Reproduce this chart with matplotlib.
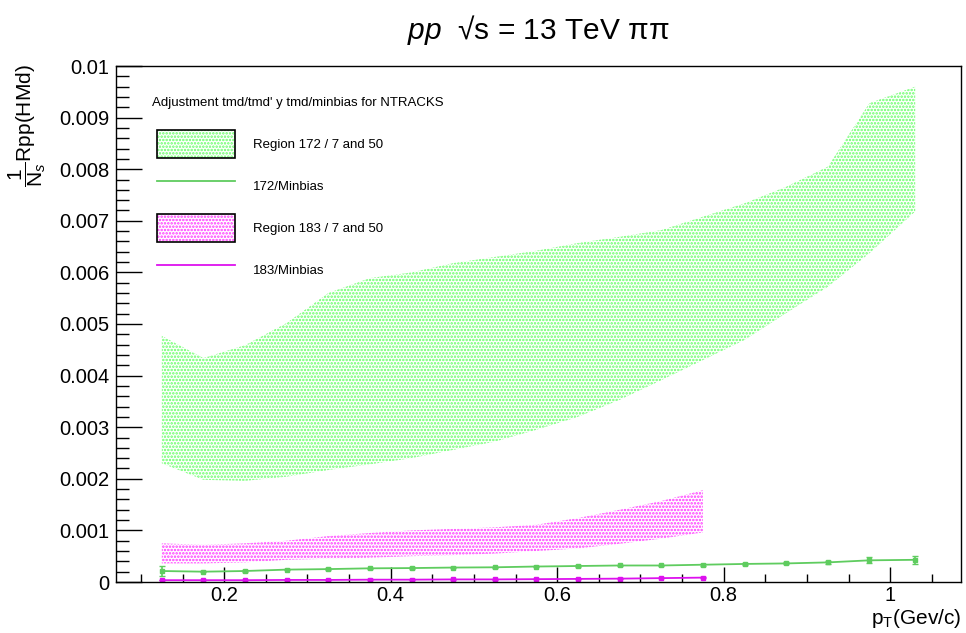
import matplotlib
matplotlib.use("Agg")
import matplotlib.pyplot as plt
from matplotlib.patches import Patch
from matplotlib.lines import Line2D
from matplotlib.legend_handler import HandlerTuple
from matplotlib.ticker import MultipleLocator, FuncFormatter

plt.rcParams['font.family'] = ['Liberation Sans', 'DejaVu Sans']
plt.rcParams['mathtext.fontset'] = 'custom'
plt.rcParams['mathtext.rm'] = 'Liberation Sans'
plt.rcParams['mathtext.it'] = 'Liberation Sans:italic'
plt.rcParams['hatch.linewidth'] = 1.2

# ---------------- data ----------------
x_172 = [0.125, 0.175, 0.225, 0.275, 0.325, 0.375, 0.425, 0.475, 0.525, 0.575,
         0.625, 0.675, 0.725, 0.775, 0.825, 0.875, 0.925, 0.975, 1.03]
band172_hi = [4.77e-3, 4.34e-3, 4.59e-3, 5.02e-3, 5.60e-3, 5.89e-3, 6.00e-3, 6.18e-3, 6.30e-3, 6.42e-3,
              6.57e-3, 6.69e-3, 6.82e-3, 7.08e-3, 7.34e-3, 7.66e-3, 8.05e-3, 9.28e-3, 9.60e-3]
band172_lo = [2.30e-3, 1.98e-3, 1.96e-3, 2.04e-3, 2.17e-3, 2.28e-3, 2.40e-3, 2.56e-3, 2.72e-3, 2.95e-3,
              3.20e-3, 3.53e-3, 3.91e-3, 4.30e-3, 4.69e-3, 5.21e-3, 5.72e-3, 6.37e-3, 7.18e-3]
ratio172 = [0.213e-3, 0.200e-3, 0.213e-3, 0.240e-3, 0.250e-3, 0.265e-3, 0.270e-3, 0.280e-3, 0.285e-3, 0.300e-3,
            0.310e-3, 0.320e-3, 0.320e-3, 0.335e-3, 0.350e-3, 0.360e-3, 0.380e-3, 0.420e-3, 0.430e-3]
err172 = [0.10e-3, 0.015e-3, 0.015e-3, 0.015e-3, 0.015e-3, 0.015e-3, 0.015e-3, 0.015e-3, 0.015e-3, 0.015e-3,
          0.015e-3, 0.015e-3, 0.015e-3, 0.02e-3, 0.02e-3, 0.02e-3, 0.03e-3, 0.06e-3, 0.08e-3]

x_183 = [0.125, 0.175, 0.225, 0.275, 0.325, 0.375, 0.425, 0.475, 0.525, 0.575,
         0.625, 0.675, 0.725, 0.775]
band183_hi = [0.75e-3, 0.72e-3, 0.75e-3, 0.80e-3, 0.89e-3, 0.95e-3, 1.00e-3, 1.03e-3, 1.06e-3, 1.11e-3,
              1.24e-3, 1.40e-3, 1.57e-3, 1.78e-3]
band183_lo = [0.36e-3, 0.36e-3, 0.38e-3, 0.43e-3, 0.45e-3, 0.47e-3, 0.50e-3, 0.52e-3, 0.55e-3, 0.60e-3,
              0.65e-3, 0.74e-3, 0.84e-3, 0.96e-3]
ratio183 = [0.035e-3, 0.035e-3, 0.035e-3, 0.040e-3, 0.040e-3, 0.045e-3, 0.045e-3, 0.050e-3, 0.050e-3, 0.055e-3,
            0.060e-3, 0.065e-3, 0.075e-3, 0.085e-3]
err183 = [0.005e-3] * 14

legend_title = "Adjustment tmd/tmd' y tmd/minbias for NTRACKS"
labels = ["Region 172 / 7 and 50", "172/Minbias", "Region 183 / 7 and 50", "183/Minbias"]

green_fill = '#66ff66'
green_line = '#5fcc5f'
mag_fill = '#ff33ff'
mag_line = '#dd11ee'

# ---------------- figure ----------------
fig = plt.figure(figsize=(9.66, 6.33), dpi=100)
ax = fig.add_axes([116/966, 1-582/633, (961-116)/966, (582-66)/633])

ax.fill_between(x_172, band172_lo, band172_hi, facecolor='none', edgecolor=green_fill,
                hatch='.....', linewidth=0)
ax.fill_between(x_183, band183_lo, band183_hi, facecolor='none', edgecolor=mag_fill,
                hatch='.....', linewidth=0)

ax.errorbar(x_172, ratio172, yerr=err172, fmt='s-', ms=3, color=green_line, lw=1.3,
            elinewidth=1.2, capsize=2)
ax.errorbar(x_183, ratio183, yerr=err183, fmt='s-', ms=3, color=mag_line, lw=1.3,
            elinewidth=1.2, capsize=2)

ax.set_xlim(0.07, 1.085)
ax.set_ylim(0, 0.01)

ax.xaxis.set_major_locator(MultipleLocator(0.2))
ax.xaxis.set_minor_locator(MultipleLocator(0.05))
ax.yaxis.set_major_locator(MultipleLocator(0.001))
ax.yaxis.set_minor_locator(MultipleLocator(0.0002))
fmt = FuncFormatter(lambda v, p: f'{v:.10g}' if abs(v) > 1e-12 else '0')
ax.xaxis.set_major_formatter(fmt)
ax.yaxis.set_major_formatter(fmt)
ax.tick_params(which='both', direction='in', top=False, right=False, width=1.0,
               labelsize=14.5, color='black')
ax.tick_params(axis='y', which='major', length=18.7, pad=5)
ax.tick_params(axis='y', which='minor', length=9.4)
ax.tick_params(axis='x', which='major', length=10.8, pad=3)
ax.tick_params(axis='x', which='minor', length=5.5)
for s in ax.spines.values():
    s.set_linewidth(1.0)

# titles
fig.text(538/966, 1-30/633, r'$pp$  √s = 13 TeV ππ', ha='center', va='center', fontsize=21.5)
fig.text(27/966, 1-64/633, r'$\dfrac{1}{\mathrm{N}_{s}}$Rpp(HMd)', rotation=90, ha='center',
         va='top', fontsize=15)
fig.text(961/966, 1-624/633, r'p$_{\mathrm{T}}$(Gev/c)', ha='right', va='baseline', fontsize=15)

# legend
fig.text(152/966, 1-103/633, legend_title, ha='left', va='center', fontsize=9.5)
h1 = (Patch(facecolor='none', edgecolor=green_fill, hatch='.....', linewidth=0),
      Patch(facecolor='none', edgecolor='black', linewidth=1.2))
h2 = Line2D([], [], color=green_line, lw=1.3)
h3 = (Patch(facecolor='none', edgecolor=mag_fill, hatch='.....', linewidth=0),
      Patch(facecolor='none', edgecolor='black', linewidth=1.2))
h4 = Line2D([], [], color=mag_line, lw=1.3)
leg = ax.legend([h1, h2, h3, h4], labels, loc='upper left',
                bbox_to_anchor=(157/966, 1-130/633), bbox_transform=fig.transFigure,
                frameon=False, fontsize=9.5, borderpad=0, borderaxespad=0,
                handlelength=5.9, handleheight=2.885, labelspacing=1.06, handletextpad=1.36,
                handler_map={tuple: HandlerTuple(ndivide=1, pad=0)})

fig.savefig('out.png', dpi=100)
